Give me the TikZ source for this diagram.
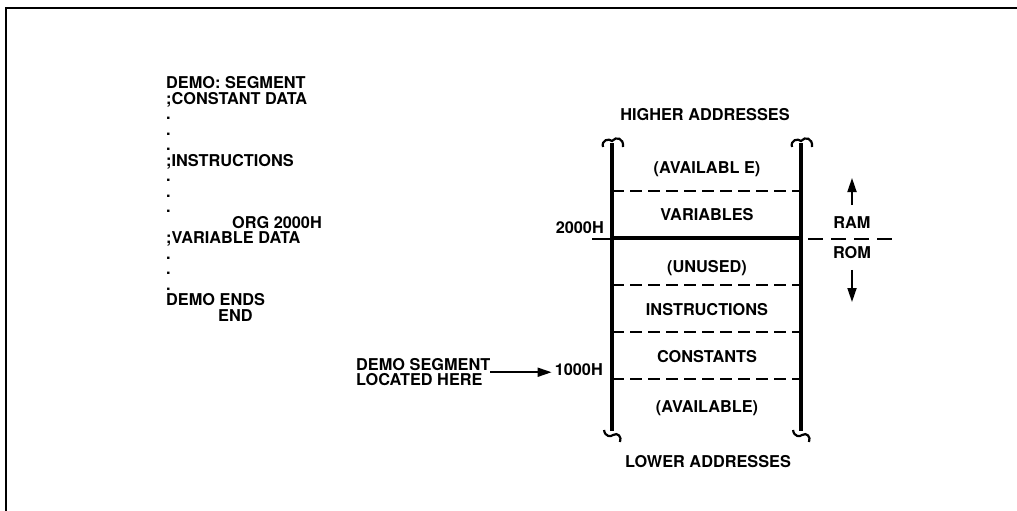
\documentclass[tikz,border=0pt]{standalone}
\usepackage{fontspec}
\setmainfont{TeX Gyre Heros}
\usetikzlibrary{arrows.meta}

\begin{document}
\begin{tikzpicture}[
			x=1pt,y=-1pt,
			every node/.style={font=\bfseries\fontsize{16.3}{15.5}\selectfont,inner sep=0pt},
			lbl/.style={text height=11.5pt,text depth=0pt},
			bar/.style={line width=4pt},
			sep/.style={line width=1.8pt,dash pattern=on 12pt off 6pt},
			curl/.style={line width=2.2pt},
			arr/.style={line width=1.8pt,-{Triangle[length=14pt,width=9pt]}},
			declare function={
				xl=612;
				xr=801;
				xm=707;
				ytop=143;
				ybot=431;
			}
			]
			\useasboundingbox (0,0) rectangle (1017,511);
			% frame
			\draw[line width=2.5pt] (6,511) -- (6,8) -- (1017,8);
			% source listing
			\node[anchor=north west,align=left] (listing) at (166,76.5)
				{DEMO: SEGMENT\\;CONSTANT DATA\\.\\.\\.\\;INSTRUCTIONS\\.\\.\\.\\
				\hspace*{66pt}ORG 2000H\\;VARIABLE DATA\\.\\.\\.\\DEMO ENDS\\\hspace*{52pt}END};
			% memory map
			\foreach \y in {191,285,332,379}
				\draw[sep] ({xl},\y) -- ({xr},\y);
			\draw[line width=3.5pt] ({xl},238) -- ({xr},238);
			\draw[line width=1.8pt] (592,239) -- ({xl},239);
			\draw[line width=1.8pt,dash pattern=on 15pt off 8pt] (808,239) -- (893,239);
			\draw[bar] ({xl},{ytop}) -- ({xl},{ybot});
			\draw[bar] ({xr},{ytop}) -- ({xr},{ybot});
			\def\topcurl#1{
				\draw[curl] ({#1-9},147) .. controls ({#1-11},140) and ({#1-3},138) .. ({#1},141)
					.. controls ({#1+4},136) and ({#1+12},138) .. ({#1+11},147);
			}
			\def\botcurl#1{
				\draw[curl] ({#1-8},430) .. controls ({#1-7},437) and ({#1-1},437) .. ({#1+1},435)
					.. controls ({#1+6},432) and ({#1+10},437) .. ({#1+8},442);
			}
			\topcurl{xl}
			\topcurl{xr}
			\botcurl{xl}
			\botcurl{xr}
			\node[lbl] (higher) at (705,115) {HIGHER ADDRESSES};
			\node[lbl] (availtop) at ({xm},168) {(AVAILABL E)};
			\node[lbl] (variables) at ({xm},215) {VARIABLES};
			\node[lbl] (unused) at ({xm},267) {(UNUSED)};
			\node[lbl] (instr) at ({xm},310) {INSTRUCTIONS};
			\node[lbl] (consts) at ({xm},357) {CONSTANTS};
			\node[lbl] (availbot) at ({xm},407) {(AVAILABLE)};
			\node[lbl] (lower) at (708,462) {LOWER ADDRESSES};
			\node[lbl,anchor=east] (k2000) at (604,228) {2000H};
			\node[lbl,anchor=east] (k1000) at (603,370) {1000H};
			% ram / rom
			\node[lbl] (ram) at (852,223) {RAM};
			\node[lbl] (rom) at (852,253) {ROM};
			\coordinate (uptip) at (852,178);
			\coordinate (dntip) at (852,302);
			\draw[arr] ([yshift=12pt]ram.north) -- (uptip);
			\draw[arr] ([yshift=-11pt]rom.south) -- (dntip);
			% segment pointer
			\node[anchor=north west,align=left,font=\bfseries\fontsize{16.3}{14.8}\selectfont] (demo) at (356,358.5)
				{DEMO SEGMENT\\LOCATED HERE};
			\draw[arr,shorten >=3pt] (demo.east) -- (demo.east -| k1000.west);
		\end{tikzpicture}
\end{document}
